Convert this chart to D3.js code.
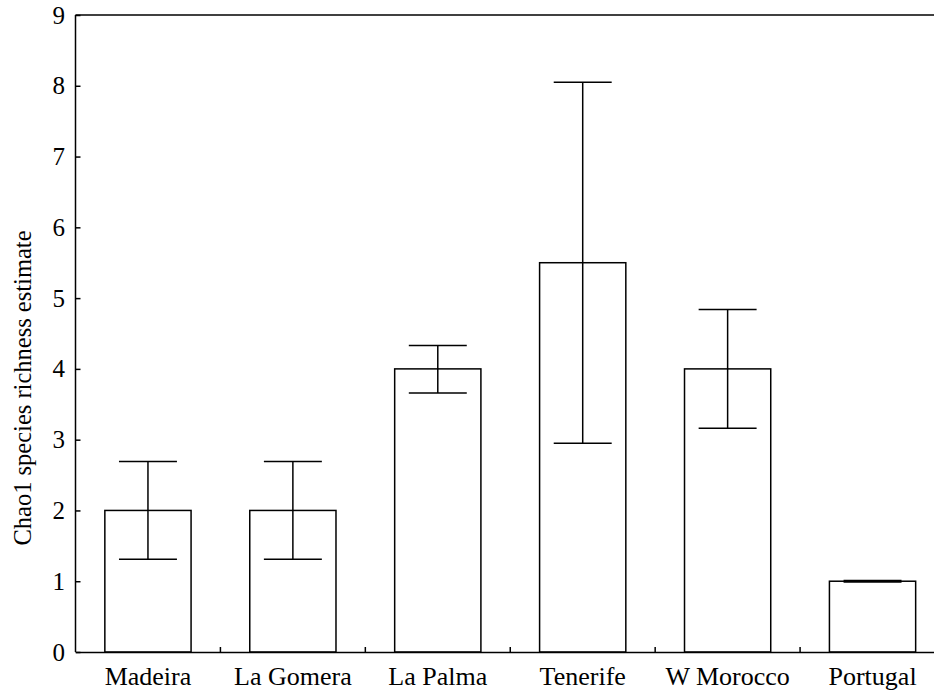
<!DOCTYPE html>
<html><head><meta charset="utf-8">
<script src="https://cdn.jsdelivr.net/npm/d3@7"></script>
<style>body{margin:0;background:#fff}svg{display:block}</style>
</head><body>
<script>
const categories = ["Madeira","La Gomera","La Palma","Tenerife","W Morocco","Portugal"];
const means = [2, 2, 4, 5.5, 4, 1];
const lower = [1.31, 1.31, 3.66, 2.95, 3.16, 0.99];
const upper = [2.69, 2.69, 4.33, 8.05, 4.84, 1.01];
const yTicks = [0,1,2,3,4,5,6,7,8,9];
const yLabel = "Chao1 species richness estimate";
const FONT = "'Liberation Serif', 'Times New Roman', serif";

const W = 934, H = 696;
const svg = d3.select("body").append("svg").attr("width", W).attr("height", H)
  .attr("font-family", FONT);
const x = d3.scaleBand().domain(categories).range([75.5, 945]).padding(0);
const y = d3.scaleLinear().domain([0, 9]).range([652, 15]);
const bw = x.bandwidth();
const barW = bw * 0.595, capW = bw * 0.4;
const cx = c => x(c) + bw / 2;

svg.append("g").selectAll("rect").data(categories).join("rect")
  .attr("x", c => cx(c) - barW / 2).attr("y", (c, i) => y(means[i]))
  .attr("width", barW).attr("height", (c, i) => y(0) - y(means[i]))
  .attr("fill", "#fff").attr("stroke", "#000").attr("stroke-width", 1.5);

const eb = svg.append("g").attr("stroke", "#000").attr("stroke-width", 1.5);
categories.forEach((c, i) => {
  eb.append("line").attr("x1", cx(c)).attr("x2", cx(c)).attr("y1", y(lower[i])).attr("y2", y(upper[i]));
  eb.append("line").attr("x1", cx(c) - capW / 2).attr("x2", cx(c) + capW / 2).attr("y1", y(upper[i])).attr("y2", y(upper[i]));
  eb.append("line").attr("x1", cx(c) - capW / 2).attr("x2", cx(c) + capW / 2).attr("y1", y(lower[i])).attr("y2", y(lower[i]));
});

svg.append("line").attr("x1", 75.5).attr("x2", 945).attr("y1", y(9)).attr("y2", y(9))
  .attr("stroke", "#000").attr("stroke-width", 1.5);

const yAx = svg.append("g").attr("transform", "translate(75.5,0)")
  .call(d3.axisRight(y).tickValues(yTicks).tickSize(5).tickFormat(d3.format("d")))
  .attr("font-family", FONT).attr("font-size", 25);
yAx.select(".domain").attr("stroke-width", 1.5).attr("d", `M0,${y(0)}V${y(9)}`);
yAx.selectAll(".tick line").attr("stroke-width", 1.5);
yAx.selectAll("text").attr("x", -10.5).attr("text-anchor", "end");

const xAx = svg.append("g").attr("transform", `translate(0,${y(0)})`)
  .call(d3.axisBottom(x).tickSize(0).tickPadding(15))
  .attr("font-family", FONT).attr("font-size", 26);
xAx.select(".domain").attr("stroke-width", 1.5);
svg.append("g").selectAll("line").data(categories.slice(1)).join("line")
  .attr("x1", c => x(c)).attr("x2", c => x(c)).attr("y1", y(0)).attr("y2", y(0) - 5)
  .attr("stroke", "#000").attr("stroke-width", 1.5);

svg.append("text").attr("transform", `translate(31,388) rotate(-90)`)
  .attr("text-anchor", "middle").attr("font-size", 24.5)
  .attr("fill", "#000").text(yLabel);
</script>
</body></html>
